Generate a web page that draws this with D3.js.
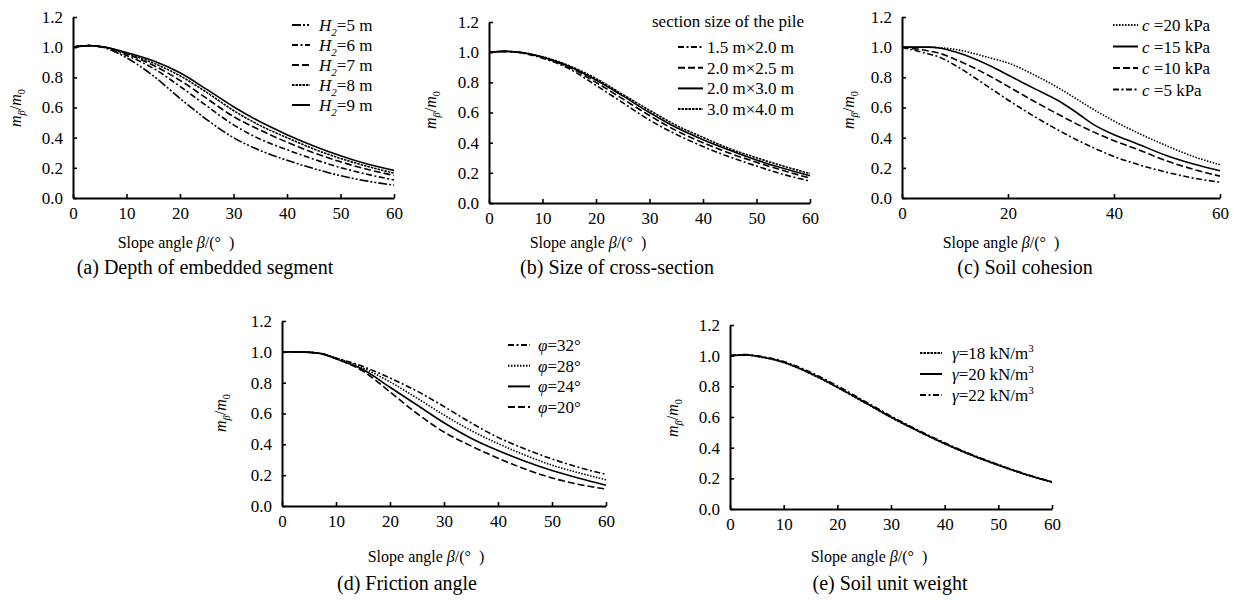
<!DOCTYPE html>
<html>
<head>
<meta charset="utf-8">
<script src="https://cdn.jsdelivr.net/npm/d3@7"></script>
<style>
  body { margin: 0; background: #fff; }
  svg text { font-family: "Liberation Serif", "Times New Roman", serif; fill: #000; }
</style>
</head>
<body>
<div id="container"></div>
<script>
// ---- data ----
const yTicks = [0, 0.2, 0.4, 0.6, 0.8, 1.0, 1.2];

// (a) depth of embedded segment
const anglesA = [0, 3, 6, 10, 15, 20, 25, 30, 35, 40, 45, 50, 55, 60];
const h2Labels = ['5', '6', '7', '8', '9'];
const h2_5 = [1.0, 1.01, 0.995, 0.93, 0.81, 0.66, 0.52, 0.40, 0.315, 0.25, 0.195, 0.148, 0.112, 0.085];
const h2_6 = [1.0, 1.01, 0.998, 0.945, 0.86, 0.74, 0.61, 0.485, 0.39, 0.32, 0.257, 0.202, 0.157, 0.12];
const h2_7 = [1.0, 1.01, 1.0, 0.955, 0.88, 0.78, 0.66, 0.54, 0.45, 0.37, 0.30, 0.24, 0.19, 0.15];
const h2_8 = [1.0, 1.01, 1.0, 0.96, 0.895, 0.81, 0.70, 0.58, 0.48, 0.40, 0.325, 0.262, 0.21, 0.165];
const h2_9 = [1.0, 1.01, 1.0, 0.965, 0.91, 0.83, 0.72, 0.605, 0.505, 0.42, 0.345, 0.28, 0.225, 0.183];

// (b) size of cross-section
const anglesB = [0, 3, 6, 10, 15, 20, 25, 30, 35, 40, 45, 50, 55, 60];
const sectionLabels = ['1.5 m×2.0 m', '2.0 m×2.5 m', '2.0 m×3.0 m', '3.0 m×4.0 m'];
const sec15x20 = [1.0, 1.005, 0.995, 0.96, 0.89, 0.78, 0.665, 0.55, 0.455, 0.375, 0.305, 0.245, 0.19, 0.145];
const sec20x25 = [1.0, 1.005, 0.997, 0.965, 0.90, 0.80, 0.69, 0.58, 0.48, 0.40, 0.33, 0.27, 0.215, 0.165];
const sec20x30 = [1.0, 1.005, 0.998, 0.967, 0.905, 0.815, 0.71, 0.60, 0.50, 0.42, 0.35, 0.285, 0.23, 0.18];
const sec30x40 = [1.0, 1.005, 0.998, 0.97, 0.91, 0.825, 0.72, 0.615, 0.515, 0.435, 0.36, 0.30, 0.245, 0.195];

// (c) soil cohesion
const anglesC = [0, 5, 7, 10, 17, 20, 25, 30, 33, 36, 40, 44, 50, 55, 60];
const cohesionLabels = ['20', '15', '10', '5'];
const c20 = [1.0, 1.0, 0.997, 0.985, 0.925, 0.895, 0.815, 0.72, 0.655, 0.59, 0.51, 0.44, 0.345, 0.275, 0.22];
const c15 = [1.0, 1.0, 0.995, 0.97, 0.87, 0.815, 0.725, 0.635, 0.565, 0.49, 0.42, 0.365, 0.28, 0.225, 0.18];
const c10 = [1.0, 0.975, 0.96, 0.92, 0.80, 0.74, 0.64, 0.545, 0.49, 0.44, 0.38, 0.328, 0.245, 0.19, 0.145];
const c5  = [1.0, 0.955, 0.935, 0.88, 0.72, 0.65, 0.54, 0.44, 0.385, 0.335, 0.275, 0.228, 0.17, 0.132, 0.105];

// (d) friction angle
const anglesD = [0, 3, 7, 10, 15, 20, 25, 30, 35, 40, 45, 50, 55, 60];
const phiLabels = ['32', '28', '24', '20'];
const phi32 = [1.0, 1.0, 0.99, 0.96, 0.905, 0.83, 0.745, 0.645, 0.54, 0.445, 0.37, 0.305, 0.25, 0.205];
const phi28 = [1.0, 1.0, 0.99, 0.96, 0.895, 0.805, 0.70, 0.59, 0.49, 0.405, 0.33, 0.265, 0.215, 0.17];
const phi24 = [1.0, 1.0, 0.99, 0.955, 0.885, 0.77, 0.655, 0.54, 0.44, 0.36, 0.29, 0.23, 0.18, 0.135];
const phi20 = [1.0, 1.0, 0.99, 0.955, 0.875, 0.74, 0.60, 0.48, 0.39, 0.31, 0.24, 0.182, 0.14, 0.11];

// (e) soil unit weight
const anglesE = [0, 3, 5, 10, 15, 20, 25, 30, 35, 40, 45, 50, 55, 60];
const gammaLabels = ['18', '20', '22'];
const gamma18 = [1.0, 1.005, 0.995, 0.955, 0.882, 0.792, 0.695, 0.597, 0.508, 0.425, 0.35, 0.285, 0.225, 0.175];
const gamma20 = [1.0, 1.005, 0.997, 0.957, 0.885, 0.795, 0.698, 0.600, 0.510, 0.427, 0.352, 0.287, 0.227, 0.176];
const gamma22 = [1.0, 1.007, 0.999, 0.962, 0.892, 0.803, 0.705, 0.606, 0.515, 0.432, 0.356, 0.290, 0.229, 0.178];

// ---- line styles ----
const DASHDOTDOT = '9,2,2,2,2,2';
const DASHDOT = '6,2.5,2,2.5';
const LONGDASH = '7,3';
const SHORTDASH = '2.5,1';
const DOT = '1.5,1.5';
const SOLID = null;

// rich text: parts = [{t, i, sub, sup}]
function rich(sel, parts, fs) {
  let shift = 0;
  parts.forEach(p => {
    const ts = sel.append('tspan').text(p.t);
    if (p.i) ts.attr('font-style', 'italic');
    let target = p.sub ? fs * 0.3 : p.sup ? -fs * 0.4 : 0;
    if (p.sub || p.sup) ts.attr('font-size', fs * 0.65);
    if (target !== shift) {
      ts.attr('dy', target - shift);
      shift = target;
    }
  });
}

const panels = [
  {
    x0: 73, x1: 394, yTop: 17, yBot: 198, xStep: 10,
    angles: anglesA,
    series: [h2_5, h2_6, h2_7, h2_8, h2_9],
    dash: [DASHDOTDOT, DASHDOT, LONGDASH, SHORTDASH, SOLID],
    names: h2Labels.map(v => [{t: 'H', i: true}, {t: '2', i: true, sub: true}, {t: '=' + v + ' m'}]),
    legend: {lx: 292, lw: 18, tx: 319, y0: 25, dy: 20},
    yLabel: [15, 108], xTitle: [176, 248], caption: [205, 274, '(a) Depth of embedded segment']
  },
  {
    x0: 489, x1: 810, yTop: 22, yBot: 203, xStep: 10,
    angles: anglesB,
    series: [sec15x20, sec20x25, sec20x30, sec30x40],
    dash: [DASHDOT, LONGDASH, SOLID, SHORTDASH],
    names: sectionLabels.map(v => [{t: v}]),
    legend: {lx: 678, lw: 25, tx: 707, y0: 47, dy: 20.7, title: [652, 'section size of the pile'], ty: 21},
    yLabel: [430, 110], xTitle: [588, 248], caption: [617, 274, '(b) Size of cross-section']
  },
  {
    x0: 902, x1: 1220, yTop: 17, yBot: 198, xStep: 20,
    angles: anglesC,
    series: [c20, c15, c10, c5],
    dash: [DOT, SOLID, LONGDASH, DASHDOT],
    names: cohesionLabels.map(v => [{t: 'c', i: true}, {t: ' =' + v + ' kPa'}]),
    legend: {lx: 1113, lw: 25, tx: 1142, y0: 25, dy: 21.5},
    yLabel: [848, 110], xTitle: [1001, 248], caption: [1025, 274, '(c) Soil cohesion']
  },
  {
    x0: 282, x1: 606, yTop: 321, yBot: 506, xStep: 10,
    angles: anglesD,
    series: [phi32, phi28, phi24, phi20],
    dash: [DASHDOT, DOT, SOLID, LONGDASH],
    names: phiLabels.map(v => [{t: 'φ', i: true}, {t: '=' + v + '°'}]),
    legend: {lx: 508, lw: 22, tx: 538, y0: 345, dy: 20.7},
    yLabel: [220, 413], xTitle: [426, 562], caption: [407, 590, '(d) Friction angle']
  },
  {
    x0: 730, x1: 1052, yTop: 325, yBot: 509, xStep: 10,
    angles: anglesE,
    series: [gamma18, gamma20, gamma22],
    dash: [SHORTDASH, SOLID, DASHDOT],
    names: gammaLabels.map(v => [{t: 'γ', i: true}, {t: '=' + v + ' kN/m'}, {t: '3', sup: true}]),
    legend: {lx: 920, lw: 22, tx: 952, y0: 353, dy: 21},
    yLabel: [672, 418], xTitle: [869, 562], caption: [890, 590, '(e) Soil unit weight']
  }
];

const svg = d3.select('#container')
  .append('svg')
  .attr('width', 1235)
  .attr('height', 601);

panels.forEach(p => {
  const x = d3.scaleLinear().domain([0, 60]).range([p.x0, p.x1]);
  const y = d3.scaleLinear().domain([0, 1.2]).range([p.yBot, p.yTop]);
  const g = svg.append('g');

  // axes
  const xAxis = d3.axisBottom(x)
    .tickValues(d3.range(0, 61, p.xStep))
    .tickFormat(d3.format('d'))
    .tickSizeInner(-4).tickSizeOuter(0).tickPadding(9);
  const yAxis = d3.axisLeft(y)
    .tickValues(yTicks)
    .tickFormat(d3.format('.1f'))
    .tickSizeInner(-4).tickSizeOuter(0).tickPadding(10);

  const gx = g.append('g').attr('transform', `translate(0,${p.yBot})`).call(xAxis);
  const gy = g.append('g').attr('transform', `translate(${p.x0},0)`).call(yAxis);
  [gx, gy].forEach(a => {
    a.select('.domain').attr('stroke', '#000').attr('stroke-width', 2);
    a.selectAll('.tick line').attr('stroke', '#000').attr('stroke-width', 1.6);
    a.selectAll('.tick text')
      .attr('font-family', '"Liberation Serif", "Times New Roman", serif')
      .attr('font-size', 17);
  });

  // curves
  const line = d3.line()
    .x(d => x(d[0]))
    .y(d => y(d[1]))
    .curve(d3.curveMonotoneX);

  p.series.forEach((vals, i) => {
    const pts = p.angles.map((a, k) => [a, vals[k]]);
    g.append('path')
      .attr('d', line(pts))
      .attr('fill', 'none')
      .attr('stroke', '#000')
      .attr('stroke-width', 1.6)
      .attr('stroke-dasharray', p.dash[i]);
  });

  // legend
  const L = p.legend;
  if (L.title) {
    g.append('text')
      .attr('x', L.title[0]).attr('y', L.ty + 5.5)
      .attr('font-size', 17)
      .text(L.title[1]);
  }
  p.names.forEach((parts, i) => {
    const yy = L.y0 + i * L.dy;
    g.append('line')
      .attr('x1', L.lx).attr('x2', L.lx + L.lw)
      .attr('y1', yy).attr('y2', yy)
      .attr('stroke', '#000')
      .attr('stroke-width', 2)
      .attr('stroke-dasharray', p.dash[i]);
    const t = g.append('text')
      .attr('x', L.tx).attr('y', yy + 6)
      .attr('font-size', 17);
    rich(t, parts, 17);
  });

  // y label
  const yl = g.append('text')
    .attr('transform', `translate(${p.yLabel[0]},${p.yLabel[1]}) rotate(-90)`)
    .attr('text-anchor', 'middle')
    .attr('dy', '0.35em')
    .attr('font-size', 16);
  rich(yl, [{t: 'm', i: true}, {t: 'β', i: true, sub: true}, {t: '/'}, {t: 'm', i: true}, {t: '0', sub: true}], 16);

  // x title
  const xt = g.append('text')
    .attr('x', p.xTitle[0]).attr('y', p.xTitle[1])
    .attr('text-anchor', 'middle')
    .attr('font-size', 16);
  rich(xt, [{t: 'Slope angle '}, {t: 'β', i: true}, {t: '/(°\u2002)'}], 16);

  // caption
  g.append('text')
    .attr('x', p.caption[0]).attr('y', p.caption[1])
    .attr('text-anchor', 'middle')
    .attr('font-size', 20)
    .text(p.caption[2]);
});
</script>
</body>
</html>
